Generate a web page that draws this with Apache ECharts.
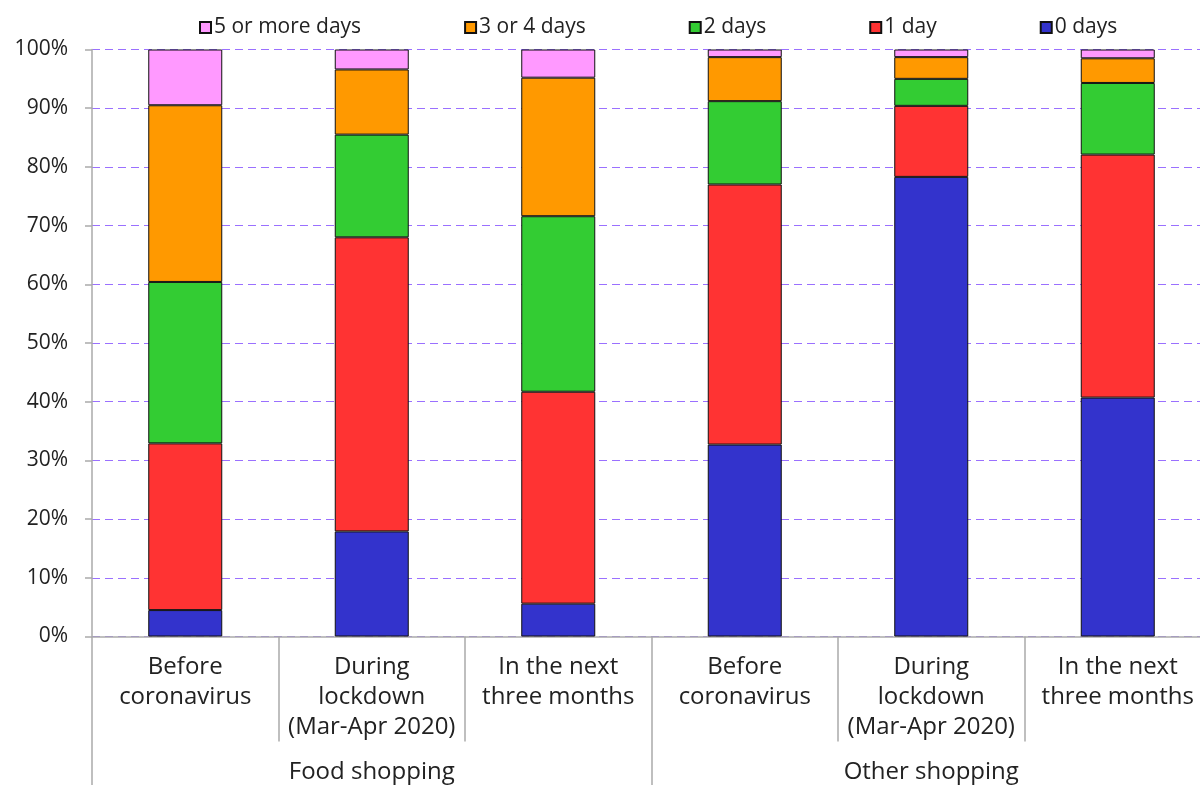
<!DOCTYPE html>
<html>
<head>
<meta charset="utf-8">
<script src="https://cdn.jsdelivr.net/npm/echarts@6/dist/echarts.min.js"></script>
<style>
html,body{margin:0;padding:0;background:#fff;overflow:hidden;width:1200px;height:785px;}
#chart{width:1211px;height:785px;}
</style>
</head>
<body>
<div id="chart"></div>
<script>
const categories = [
  "Before\ncoronavirus",
  "During\nlockdown\n(Mar-Apr 2020)",
  "In the next\nthree months",
  "Before\ncoronavirus",
  "During\nlockdown\n(Mar-Apr 2020)",
  "In the next\nthree months"
];
const groups = ["Food shopping", "Other shopping"];
const yTicks = [0, 10, 20, 30, 40, 50, 60, 70, 80, 90, 100];

const days0 = [4.5, 17.9, 5.6, 32.7, 78.3, 40.7];
const days1 = [28.4, 50.1, 36.1, 44.3, 12.1, 41.4];
const days2 = [27.5, 17.5, 29.9, 14.2, 4.6, 12.2];
const days34 = [30.1, 11.1, 23.6, 7.5, 3.7, 4.2];
const days5 = [9.5, 3.4, 4.8, 1.3, 1.3, 1.5];

const FONT = "Open Sans";
const TXT = "#222";

function bar(name, data, color) {
  return {
    name: name, type: "bar", stack: "s", data: data, barWidth: 74,
    xAxisIndex: 0,
    itemStyle: { color: color, borderColor: "#111", borderWidth: 1 }
  };
}

const chart = echarts.init(document.getElementById("chart"));
chart.setOption({
  animation: false,
  backgroundColor: "#fff",
  textStyle: { fontFamily: FONT, color: TXT },
  grid: { left: 92, right: 0, top: 49.5, bottom: 148.5, containLabel: false },
  legend: {
    top: 12, left: 194,
    itemWidth: 11, itemHeight: 11, itemGap: 103,
    icon: "rect",
    data: ["5 or more days", "3 or 4 days", "2 days", "1 day", "0 days"],
    textStyle: { fontFamily: FONT, fontSize: 21, color: TXT, padding: [0, 0, 0, -2] }
  },
  xAxis: [
    {
      type: "category", data: categories, position: "bottom",
      axisLine: { lineStyle: { color: "#aaa", width: 1.5 } },
      axisTick: { show: true, length: 105, lineStyle: { color: "#aaa", width: 1.5 } },
      axisLabel: { interval: 0, fontFamily: FONT, fontSize: 24, color: TXT, lineHeight: 30, margin: 16 }
    },
    {
      type: "category", data: groups, position: "bottom",
      axisLine: { show: false },
      axisTick: { show: true, length: 150, lineStyle: { color: "#aaa", width: 1.5 } },
      axisLabel: { interval: 0, fontFamily: FONT, fontSize: 24, color: TXT, margin: 124 }
    }
  ],
  yAxis: {
    type: "value", min: 0, max: 100, interval: 10,
    axisLine: { show: true, lineStyle: { color: "#aaa", width: 1.5 } },
    axisTick: { show: true, length: 7, lineStyle: { color: "#aaa", width: 1.5 } },
    axisLabel: { formatter: function (v) { return yTicks.indexOf(v) >= 0 ? v + "%" : ""; }, fontFamily: FONT, fontSize: 21, color: TXT, margin: 24 },
    splitLine: { show: true, lineStyle: { color: "#9a70ff", type: [8, 5], width: 1 } }
  },
  series: [
    bar("0 days", days0, "#3333cc"),
    bar("1 day", days1, "#ff3333"),
    bar("2 days", days2, "#33cc33"),
    bar("3 or 4 days", days34, "#ff9900"),
    bar("5 or more days", days5, "#ff99ff")
  ]
});
</script>
</body>
</html>
